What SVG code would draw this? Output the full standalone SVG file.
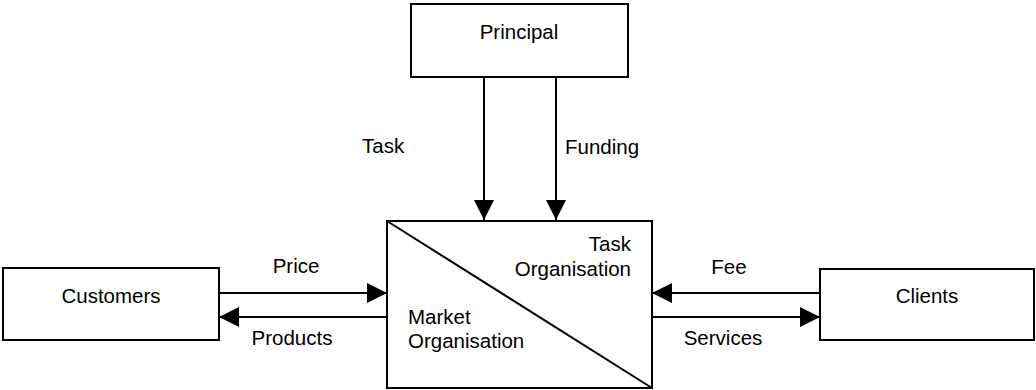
<svg xmlns="http://www.w3.org/2000/svg" width="1036" height="390" viewBox="0 0 1036 390">
  <style>
    .box { fill: #fff; stroke: #000; stroke-width: 2; }
    .link { stroke: #000; stroke-width: 2; fill: none; marker-end: url(#head); }
    text { font-family: "Liberation Sans", Arial, sans-serif; font-size: 20.5px; fill: #000; }
    .mid { text-anchor: middle; }
    .end { text-anchor: end; }
  </style>
  <defs>
    <marker id="head" viewBox="0 0 20 20" refX="20" refY="10" markerWidth="20" markerHeight="20" markerUnits="userSpaceOnUse" orient="auto">
      <path d="M0,0 L20,10 L0,20 Z" fill="#000"/>
    </marker>
  </defs>
  <rect width="1036" height="390" fill="#fff"/>

  <g id="principal">
    <rect class="box" x="411" y="4" width="217" height="73"/>
    <text class="mid" x="519" y="39">Principal</text>
  </g>

  <g id="organisation">
    <rect class="box" x="387" y="221" width="265" height="167"/>
    <line x1="387" y1="221" x2="652" y2="388" stroke="#000" stroke-width="2"/>
    <text class="end" x="631" y="251">Task</text>
    <text class="end" x="631" y="276">Organisation</text>
    <text x="408" y="324">Market</text>
    <text x="408" y="348">Organisation</text>
  </g>

  <g id="customers">
    <rect class="box" x="3" y="268" width="216" height="72"/>
    <text class="mid" x="111" y="303">Customers</text>
  </g>

  <g id="clients">
    <rect class="box" x="820" y="269" width="214" height="71"/>
    <text class="mid" x="927" y="303">Clients</text>
  </g>

  <g id="connectors">
    <line class="link" x1="484" y1="77" x2="484" y2="220"/>
    <line class="link" x1="556" y1="77" x2="556" y2="220"/>
    <line class="link" x1="219" y1="293" x2="387" y2="293"/>
    <line class="link" x1="387" y1="317" x2="219" y2="317"/>
    <line class="link" x1="820" y1="293" x2="652" y2="293"/>
    <line class="link" x1="652" y1="317" x2="820" y2="317"/>
    <text x="362" y="153">Task</text>
    <text x="565" y="154">Funding</text>
    <text class="mid" x="296" y="273">Price</text>
    <text class="mid" x="292" y="345">Products</text>
    <text class="mid" x="729" y="274">Fee</text>
    <text class="mid" x="723" y="345">Services</text>
  </g>
</svg>
